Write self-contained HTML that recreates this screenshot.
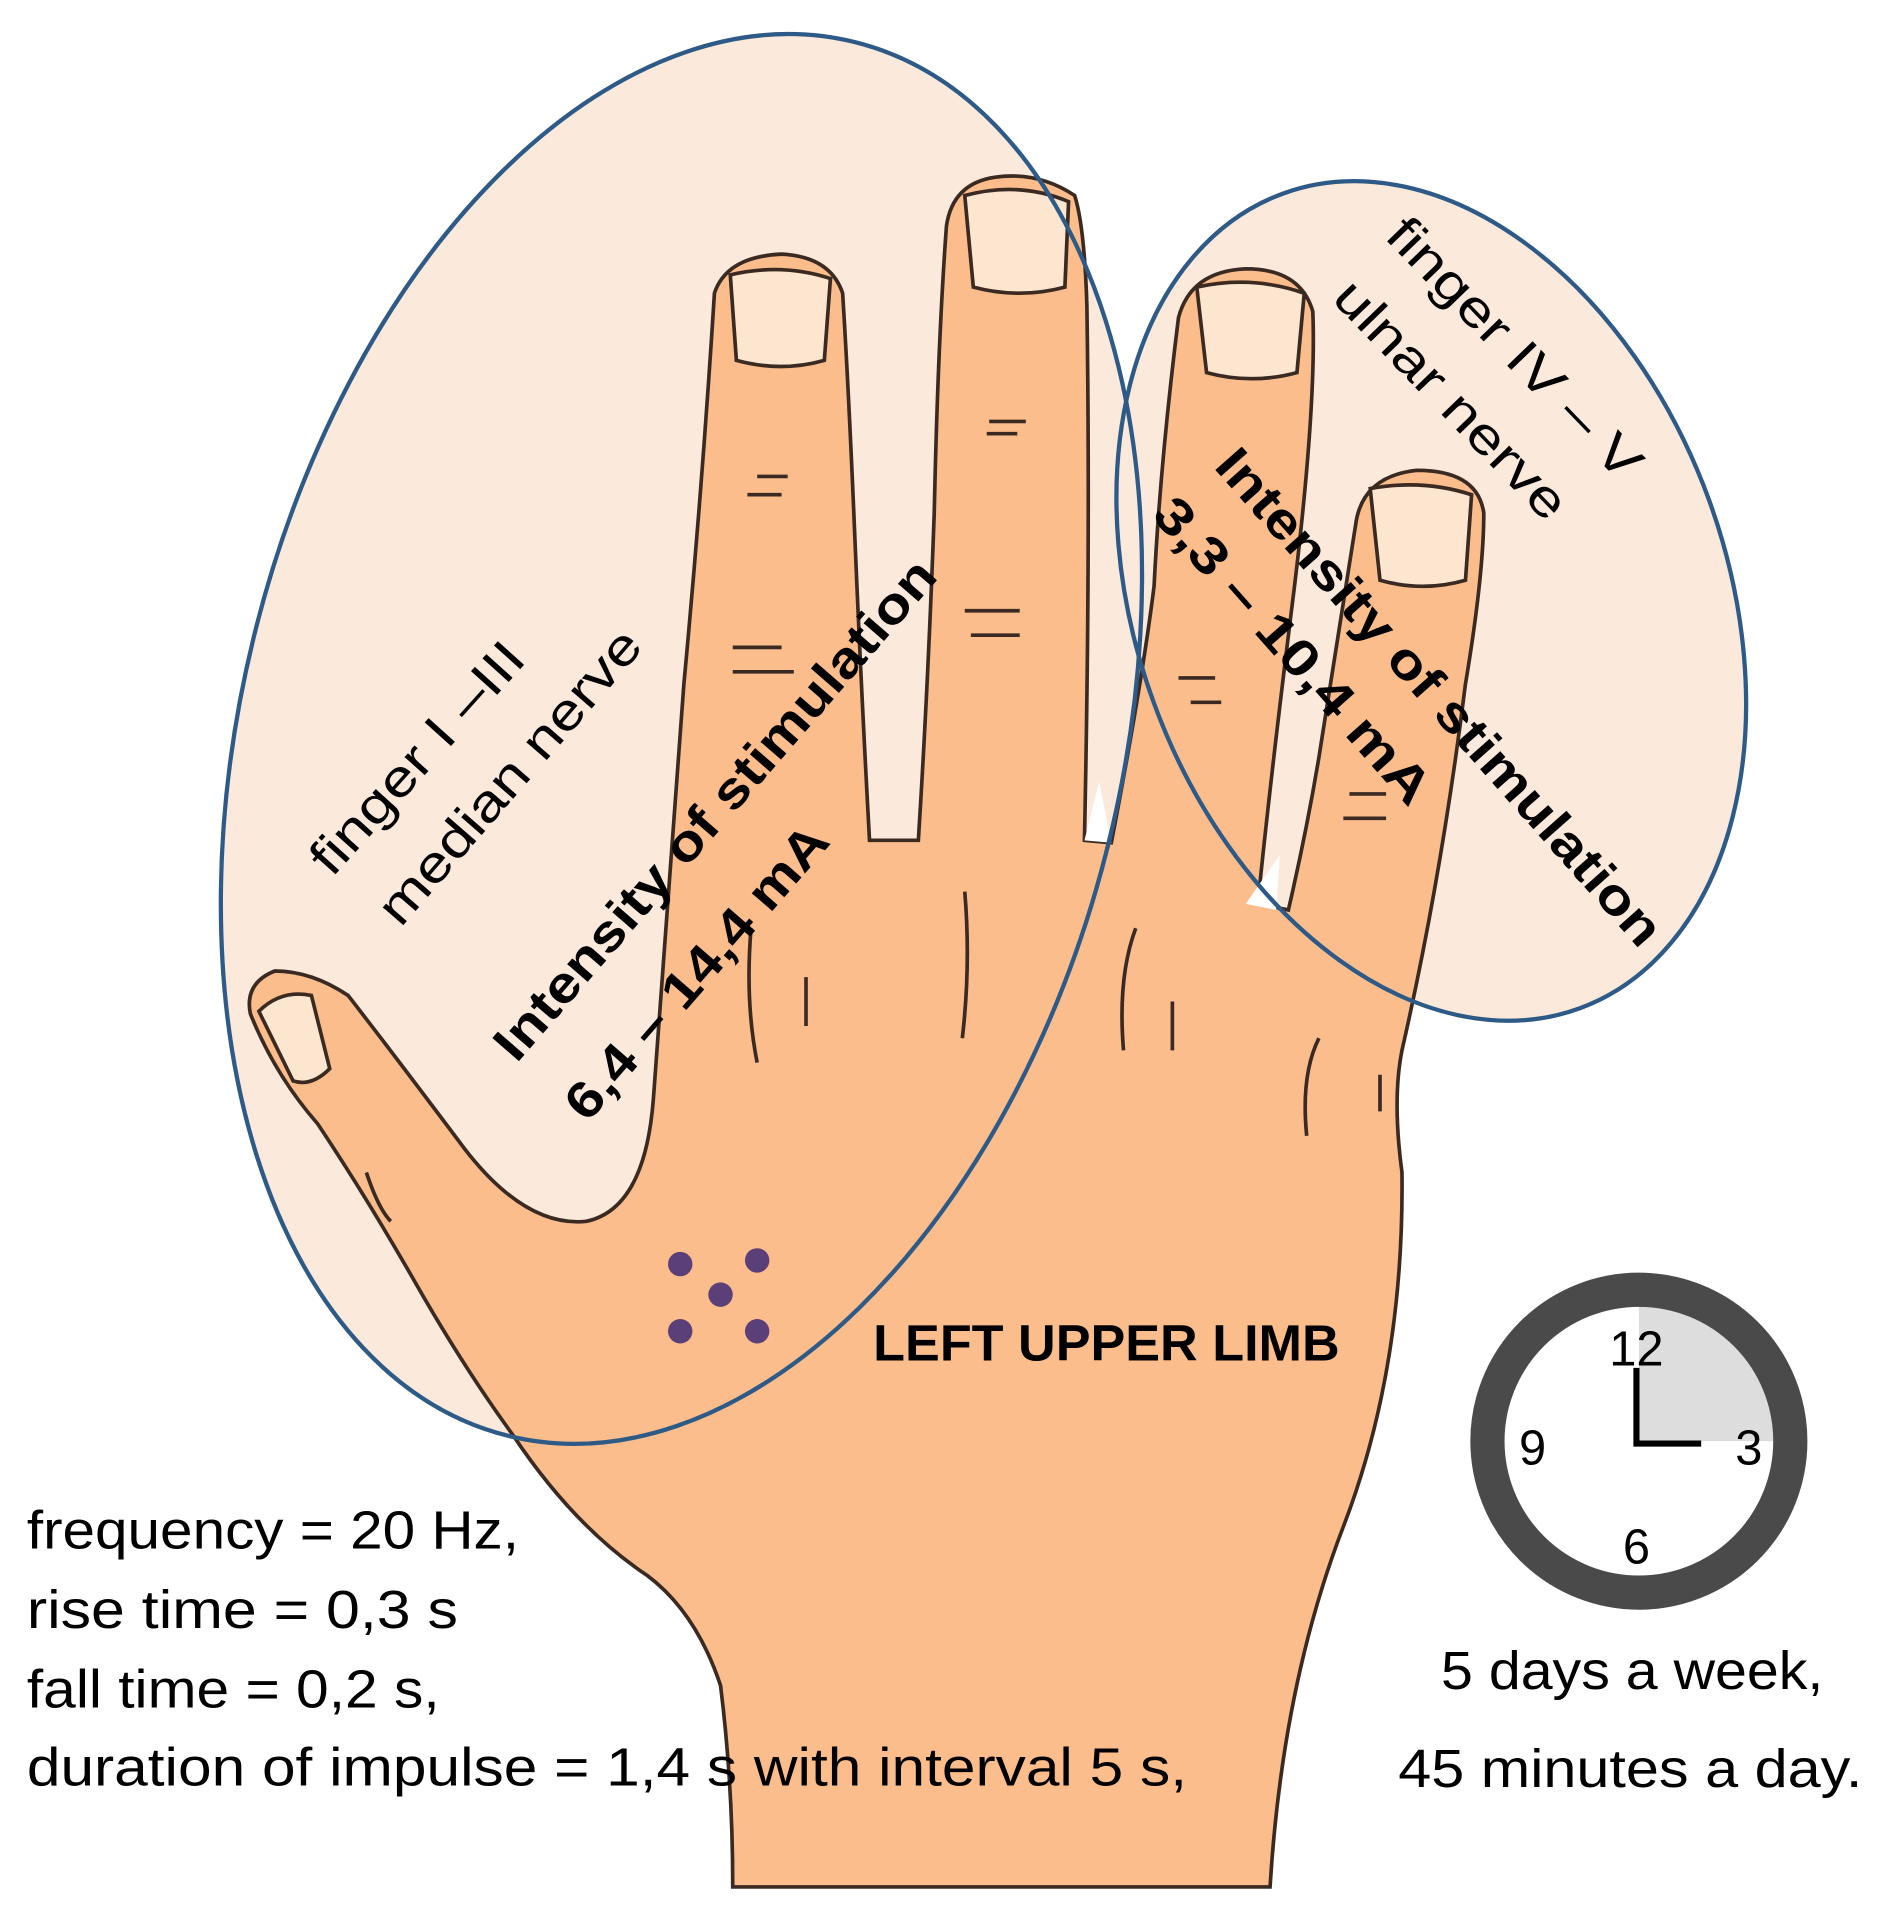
<!DOCTYPE html>
<html><head><meta charset="utf-8"><style>
html,body{margin:0;padding:0;background:#fff;}
svg{display:block;}
text{font-family:"Liberation Sans",sans-serif;}
</style></head><body>
<svg width="1899" height="1931" viewBox="0 0 1555 1581" xmlns="http://www.w3.org/2000/svg">
<rect width="1555" height="1581" fill="#fff"/>
<ellipse cx="558" cy="605" rx="360" ry="588" transform="rotate(14 558 605)" fill="#fbe9dc"/>
<ellipse cx="1172" cy="492" rx="242" ry="355" transform="rotate(-20 1172 492)" fill="#fbe9dc"/>
<path d="M600 1545 L1040 1545 Q1050 1380 1100 1250 Q1150 1120 1148 960 Q1140 900 1148 860 Q1180 720 1200 560 Q1215 470 1215 420 Q1210 385 1160 385 Q1115 390 1110 430 L1080 620 Q1070 680 1055 745 L1030 740 Q1040 640 1060 480 Q1078 330 1075 255 Q1065 220 1020 220 Q975 222 965 260 Q950 380 945 480 Q935 560 910 690 L888 688 Q893 450 890 250 Q888 185 880 160 Q850 140 815 145 Q780 150 775 185 Q768 280 765 420 Q760 560 752 688 L712 688 Q705 560 700 440 Q695 320 690 240 Q680 210 640 208 Q595 210 585 240 Q575 400 560 560 Q545 760 535 900 Q528 990 480 1000 Q430 1005 380 940 Q320 860 285 815 Q255 795 225 795 Q200 805 205 830 Q225 880 260 920 Q300 980 340 1050 Q380 1120 420 1175 Q470 1250 530 1290 Q570 1320 590 1380 Q600 1460 600 1545 Z" fill="#fbbd8c" stroke="#3a2a22" stroke-width="3"/>
<path d="M888 688 L910 690 L900 640 Z" fill="#fff"/>
<path d="M1020 740 L1045 745 L1048 700 Z" fill="#fff"/>
<g fill="#fce6cf" stroke="#3a2a22" stroke-width="3">
<path d="M598 225 Q640 215 680 228 L675 295 Q640 305 603 295 Z"/>
<path d="M790 160 Q835 148 875 165 L872 235 Q835 245 797 235 Z"/>
<path d="M980 235 Q1025 225 1068 240 L1062 305 Q1025 315 988 305 Z"/>
<path d="M1122 400 Q1165 392 1205 405 L1200 475 Q1165 485 1130 475 Z"/>
<path d="M212 828 Q230 810 255 815 L270 875 Q255 890 240 885 Z"/>
</g>
<g stroke="#3a2a22" stroke-width="3" fill="none">
<path d="M620 390 h25 M612 405 h28 M600 530 h40 M600 550 h50 M810 345 h30 M808 355 h25 M790 500 h45 M795 520 h40 M965 555 h30 M975 575 h25 M1105 650 h30 M1100 670 h35"/>
<path d="M615 760 q-5 60 5 110 M660 800 v40 M790 730 q5 60 -2 120 M930 760 q-15 40 -10 100 M960 820 v40 M1080 850 q-15 30 -10 80 M1130 880 v30 M300 960 q10 30 20 40"/>
</g>
<ellipse cx="558" cy="605" rx="360" ry="588" transform="rotate(14 558 605)" fill="none" stroke="#2e5a87" stroke-width="3.5"/>
<ellipse cx="1172" cy="492" rx="242" ry="355" transform="rotate(-20 1172 492)" fill="none" stroke="#2e5a87" stroke-width="3.5"/>
<g fill="#5b3f78"><circle cx="557" cy="1035" r="10"/><circle cx="620" cy="1032" r="10"/><circle cx="590" cy="1060" r="10"/><circle cx="557" cy="1090" r="10"/><circle cx="620" cy="1090" r="10"/></g>
<g font-size="42" fill="#000" text-anchor="middle" lengthAdjust="spacingAndGlyphs">
<text transform="translate(352 630) rotate(-48)" textLength="240" lengthAdjust="spacingAndGlyphs">finger I –III</text>
<text transform="translate(428 645) rotate(-49)" textLength="305" lengthAdjust="spacingAndGlyphs">median nerve</text>
<text transform="translate(1230 295) rotate(46)" textLength="280" lengthAdjust="spacingAndGlyphs">finger IV – V</text>
<text transform="translate(1178 337) rotate(46)" textLength="255" lengthAdjust="spacingAndGlyphs">ulnar nerve</text>
</g>
<g font-size="42" font-weight="bold" fill="#000" text-anchor="middle">
<text transform="translate(596 672) rotate(-49)" textLength="528" lengthAdjust="spacingAndGlyphs">Intensity of stimulation</text>
<text transform="translate(581 805) rotate(-49)" textLength="305" lengthAdjust="spacingAndGlyphs">6,4 – 14,4 mA</text>
<text transform="translate(1168 580) rotate(48.5)" textLength="528" lengthAdjust="spacingAndGlyphs">Intensity of stimulation</text>
<text transform="translate(1048 542) rotate(48.5)" textLength="320" lengthAdjust="spacingAndGlyphs">3,3 – 10,4 mA</text>
<text x="906" y="1114" textLength="382" lengthAdjust="spacingAndGlyphs">LEFT UPPER LIMB</text>
</g>
<g font-size="44" fill="#000">
<text x="22" y="1268" textLength="403" lengthAdjust="spacingAndGlyphs">frequency = 20 Hz,</text>
<text x="22" y="1333" textLength="353" lengthAdjust="spacingAndGlyphs">rise time  = 0,3 s</text>
<text x="22" y="1398" textLength="338" lengthAdjust="spacingAndGlyphs">fall time = 0,2 s,</text>
<text x="22" y="1462" textLength="950" lengthAdjust="spacingAndGlyphs">duration of impulse = 1,4 s with interval 5 s,</text>
<text x="1180" y="1383" textLength="313" lengthAdjust="spacingAndGlyphs">5 days a week,</text>
<text x="1145" y="1463" textLength="380" lengthAdjust="spacingAndGlyphs">45 minutes a day.</text>
</g>
<circle cx="1342" cy="1180" r="125" fill="#fff"/>
<path d="M1342 1180 L1342 1055 A125 125 0 0 1 1467 1180 Z" fill="#ddd"/>
<circle cx="1342" cy="1180" r="124" fill="none" stroke="#4a4a4a" stroke-width="28"/>
<g font-family="Liberation Serif,serif" font-size="40" fill="#000" text-anchor="middle">
<text x="1340" y="1118">12</text><text x="1432" y="1199">3</text><text x="1340" y="1280">6</text><text x="1255" y="1199">9</text>
</g>
<path d="M1340 1120 V1182 H1393" fill="none" stroke="#000" stroke-width="5"/>
</svg>
</body></html>
